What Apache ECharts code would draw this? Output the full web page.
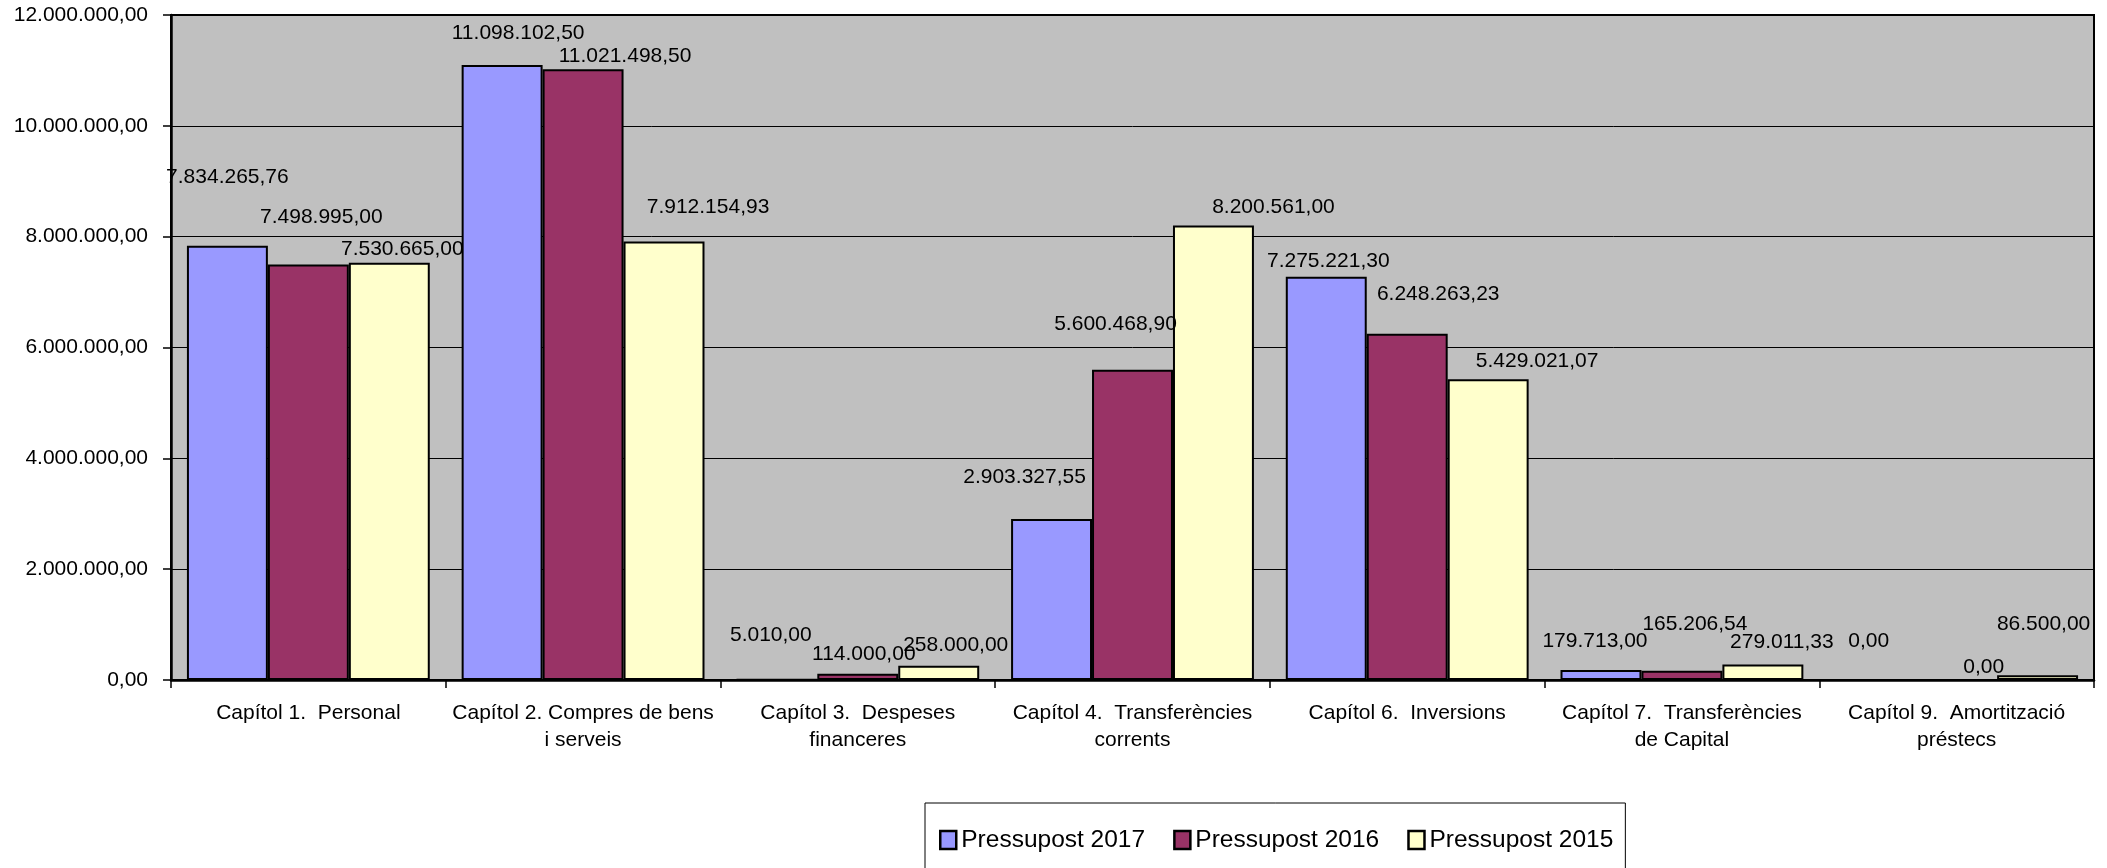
<!DOCTYPE html>
<html>
<head>
<meta charset="utf-8">
<script src="https://cdn.jsdelivr.net/npm/echarts@6/dist/echarts.min.js"></script>
<style>
html,body{margin:0;padding:0;background:#fff;}
#c{width:2107px;height:868px;}
</style>
</head>
<body>
<div id="c"></div>
<script>
const categories = [
  "Capítol 1.  Personal",
  "Capítol 2. Compres de bens\ni serveis",
  "Capítol 3.  Despeses\nfinanceres",
  "Capítol 4.  Transferències\ncorrents",
  "Capítol 6.  Inversions",
  "Capítol 7.  Transferències\nde Capital",
  "Capítol 9.  Amortització\npréstecs"
];
const seriesNames = ["Pressupost 2017", "Pressupost 2016", "Pressupost 2015"];
const values2017 = [7834265.76, 11098102.50, 5010.00, 2903327.55, 7275221.30, 179713.00, 0.00];
const values2016 = [7498995.00, 11021498.50, 114000.00, 5600468.90, 6248263.23, 165206.54, 0.00];
const values2015 = [7530665.00, 7912154.93, 258000.00, 8200561.00, 5429021.07, 279011.33, 86500.00];
const yTicks = [0, 2000000, 4000000, 6000000, 8000000, 10000000, 12000000];

// label placement (style only): [dx, dy] of label centre relative to bar top centre
const labelShift2017 = [[0,-69],[16,-32],[-6,-44],[-27,-42],[2,-16],[-6,-29],[-7,-38]];
const labelShift2016 = [[13,-47],[42,-13],[6,-19],[-17,-45],[31,-40],[13,-47],[27,-12]];
const labelShift2015 = [[13,-13],[44,-34],[17,-20],[60,-18],[49,-18],[19,-22],[6,-51]];

const colors = ["#9999FF", "#993366", "#FFFFCC"];
const FONT = "Liberation Sans, Arial, sans-serif";

function fmt(v) {
  const neg = v < 0;
  v = Math.abs(v);
  let s = v.toFixed(2);
  let [ip, dp] = s.split(".");
  ip = ip.replace(/\B(?=(\d{3})+(?!\d))/g, ".");
  return (neg ? "-" : "") + ip + "," + dp;
}

function makeSeries(name, vals, shifts, color) {
  return {
    name: name,
    type: "bar",
    barGap: "0%",
    barCategoryGap: "11.6%",
    itemStyle: { color: color, borderColor: "#000", borderWidth: 2 },
    label: {
      show: true,
      position: "top",
      distance: 0,
      color: "#000",
      fontFamily: FONT,
      fontSize: 21,
      lineHeight: 24,
      formatter: p => fmt(p.value)
    },
    emphasis: { disabled: true },
    data: vals.map((v, i) => ({
      value: v,
      label: { offset: [shifts[i][0], shifts[i][1] + 12] }
    }))
  };
}

const chart = echarts.init(document.getElementById("c"), null, { renderer: "canvas" });
chart.setOption({
  animation: false,
  backgroundColor: "#fff",
  textStyle: { fontFamily: FONT },
  grid: {
    left: 171, right: 13, top: 15, bottom: 188,
    show: true, backgroundColor: "#C0C0C0",
    borderColor: "#000", borderWidth: 2
  },
  legend: {
    data: seriesNames,
    left: 925, top: 803,
    orient: "horizontal",
    borderColor: "#000", borderWidth: 1,
    padding: [24, 12, 40, 14],
    itemGap: 28,
    itemWidth: 16, itemHeight: 18,
    icon: "rect",
    itemStyle: { borderColor: "#000", borderWidth: 2.5 },
    textStyle: { fontFamily: FONT, fontSize: 24.5, color: "#000", lineHeight: 26 }
  },
  xAxis: {
    type: "category",
    data: categories,
    axisLine: { show: true, lineStyle: { color: "#000", width: 2.5 } },
    axisTick: { show: true, alignWithLabel: false, length: 8, lineStyle: { color: "#000", width: 1.5 } },
    axisLabel: {
      interval: 0, margin: 20, color: "#000",
      fontFamily: FONT, fontSize: 21, lineHeight: 27, align: "center"
    },
    splitLine: { show: false }
  },
  yAxis: {
    type: "value",
    min: yTicks[0], max: yTicks[yTicks.length - 1], interval: yTicks[1] - yTicks[0],
    axisLine: { show: true, lineStyle: { color: "#000", width: 2.5 } },
    axisTick: { show: true, length: 8, lineStyle: { color: "#000", width: 1.5 } },
    axisLabel: {
      margin: 23, color: "#000", fontFamily: FONT, fontSize: 21,
      formatter: v => fmt(v)
    },
    splitLine: { show: true, lineStyle: { color: "#000", width: 1 } }
  },
  series: [
    makeSeries(seriesNames[0], values2017, labelShift2017, colors[0]),
    makeSeries(seriesNames[1], values2016, labelShift2016, colors[1]),
    makeSeries(seriesNames[2], values2015, labelShift2015, colors[2])
  ]
});
</script>
</body>
</html>
